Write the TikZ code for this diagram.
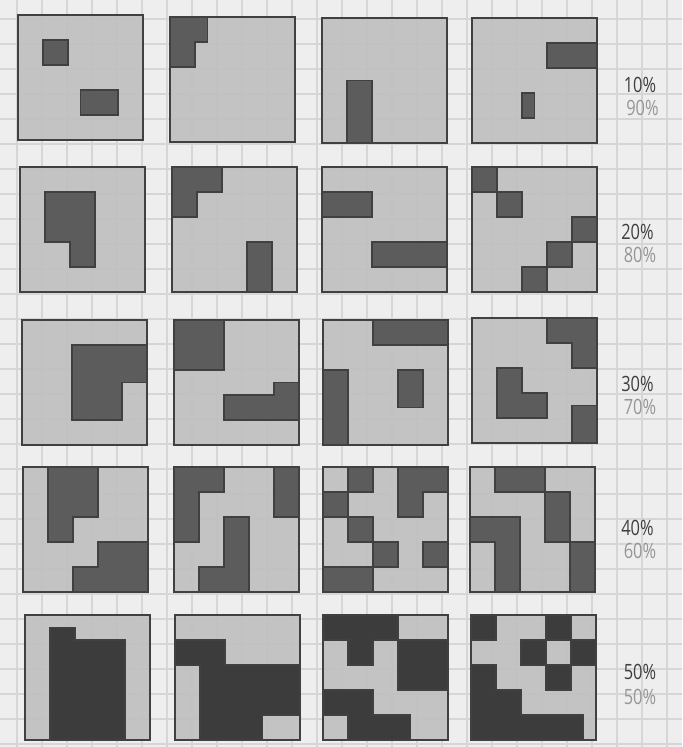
\documentclass[tikz,border=0pt]{standalone}
\usepackage{tikz}
\usepackage{xcolor}
\usepackage{fontspec}
\newfontfamily\handfont{Open Sans}
\definecolor{paper}{RGB}{238,238,238}
\definecolor{paperline}{RGB}{214,214,214}
\definecolor{pencil}{RGB}{64,64,64}
\definecolor{softgray}{RGB}{192,192,192}
\definecolor{shade}{RGB}{92,92,92}
\definecolor{deepshade}{RGB}{60,60,60}
\definecolor{fadetext}{RGB}{150,150,150}
\tikzset{
  gridline/.style={draw=paperline,line width=0.8pt},
  tilebox/.style={fill=softgray,fill opacity=0.92},
  tileframe/.style={draw=pencil,line width=1.4pt},
  darkcell/.style={fill=shade,draw=pencil,line width=0.8pt},
  deepcell/.style={darkcell,fill=deepshade},
  pct/.style={font=\handfont\fontsize{12}{12}\selectfont,text=pencil,inner sep=0pt,xscale=0.78,transform shape},
  pctlow/.style={pct,text=fadetext}
}
\newcommand{\tile}[4][darkcell]{%
  \begin{scope}[shift={(#2,-#3)},yscale=-1]
    \fill[tilebox] (0,0) rectangle (5,5);
    \filldraw[#1] #4;
    \draw[tileframe] (0,0) rectangle (5,5);
  \end{scope}}

\begin{document}
\begin{tikzpicture}[x=0.5cm,y=0.5cm]
  \fill[paper] (0,0) rectangle (27.28,-29.88);
  \useasboundingbox (0,0) rectangle (27.28,-29.88);
  \foreach \gx in {0,...,26}
    \draw[gridline] (0.68+\gx,0) -- (0.68+\gx,-29.88);
  \foreach \gy in {0,...,29}
    \draw[gridline] (0,-0.76-\gy) -- (27.28,-0.76-\gy);

  \tile{0.72}{0.6}{(1,1) rectangle (2,2) (2.5,3) rectangle (4,4)}
  \tile{6.8}{0.68}{(0,0) -- (1.5,0) -- (1.5,1) -- (1,1) -- (1,2) -- (0,2) -- cycle}
  \tile{12.88}{0.72}{(1,2.5) rectangle (2,5)}
  \tile{18.88}{0.72}{(3,1) rectangle (5,2) (2,3) rectangle (2.5,4)}

  \tile{0.8}{6.68}{(1,1) -- (3,1) -- (3,4) -- (2,4) -- (2,3) -- (1,3) -- cycle}
  \tile{6.88}{6.68}{(0,0) -- (2,0) -- (2,1) -- (1,1) -- (1,2) -- (0,2) -- cycle
    (3,3) rectangle (4,5)}
  \tile{12.88}{6.68}{(0,1) rectangle (2,2) (2,3) rectangle (5,4)}
  \tile{18.88}{6.68}{(0,0) rectangle (1,1) (1,1) rectangle (2,2) (4,2) rectangle (5,3)
    (3,3) rectangle (4,4) (2,4) rectangle (3,5)}

  \tile{0.88}{12.8}{(2,1) -- (5,1) -- (5,2.5) -- (4,2.5) -- (4,4) -- (2,4) -- cycle}
  \tile{6.96}{12.8}{(0,0) rectangle (2,2)
    (2,3) -- (4,3) -- (4,2.5) -- (5,2.5) -- (5,4) -- (2,4) -- cycle}
  \tile{12.92}{12.8}{(2,0) rectangle (5,1) (0,2) rectangle (1,5) (3,2) rectangle (4,3.5)}
  \tile{18.88}{12.72}{(3,0) -- (5,0) -- (5,2) -- (4,2) -- (4,1) -- (3,1) -- cycle
    (1,2) -- (2,2) -- (2,3) -- (3,3) -- (3,4) -- (1,4) -- cycle
    (4,3.5) rectangle (5,5)}

  \tile{0.92}{18.68}{(1,0) -- (3,0) -- (3,2) -- (2,2) -- (2,3) -- (1,3) -- cycle
    (3,3) -- (5,3) -- (5,5) -- (2,5) -- (2,4) -- (3,4) -- cycle}
  \tile{6.96}{18.68}{(0,0) -- (2,0) -- (2,1) -- (1,1) -- (1,3) -- (0,3) -- cycle
    (4,0) rectangle (5,2)
    (2,2) -- (3,2) -- (3,5) -- (1,5) -- (1,4) -- (2,4) -- cycle}
  \tile{12.92}{18.68}{(1,0) rectangle (2,1)
    (3,0) -- (5,0) -- (5,1) -- (4,1) -- (4,2) -- (3,2) -- cycle
    (0,1) rectangle (1,2) (1,2) rectangle (2,3) (2,3) rectangle (3,4)
    (4,3) rectangle (5,4) (0,4) rectangle (2,5)}
  \tile{18.8}{18.68}{(1,0) rectangle (3,1) (3,1) rectangle (4,3)
    (0,2) -- (2,2) -- (2,5) -- (1,5) -- (1,3) -- (0,3) -- cycle
    (4,3) rectangle (5,5)}

  \tile[deepcell]{1.0}{24.6}{(1,0.5) -- (2,0.5) -- (2,1) -- (4,1) -- (4,5) -- (1,5) -- cycle}
  \tile[deepcell]{7.0}{24.6}{(0,1) -- (2,1) -- (2,2) -- (5,2) -- (5,4) -- (3.5,4)
    -- (3.5,5) -- (1,5) -- (1,2) -- (0,2) -- cycle}
  \tile[deepcell]{12.92}{24.6}{(0,0) -- (3,0) -- (3,1) -- (2,1) -- (2,2) -- (1,2)
    -- (1,1) -- (0,1) -- cycle
    (3,1) rectangle (5,3)
    (0,3) -- (2,3) -- (2,4) -- (3.5,4) -- (3.5,5) -- (1,5) -- (1,4) -- (0,4) -- cycle}
  \tile[deepcell]{18.84}{24.6}{(0,0) rectangle (1,1) (3,0) rectangle (4,1)
    (2,1) rectangle (3,2) (4,1) rectangle (5,2) (3,2) rectangle (4,3)
    (0,2) -- (1,2) -- (1,3) -- (2,3) -- (2,4) -- (4.5,4) -- (4.5,5) -- (0,5) -- cycle}

  \node[pct] (p10) at (25.6,-3.4) {10\%};
  \node[pctlow] (q90) at (25.7,-4.32) {90\%};
  \node[pct] (p20) at (25.5,-9.28) {20\%};
  \node[pctlow] (q80) at (25.6,-10.2) {80\%};
  \node[pct] (p30) at (25.5,-15.36) {30\%};
  \node[pctlow] (q70) at (25.6,-16.28) {70\%};
  \node[pct] (p40) at (25.5,-21.12) {40\%};
  \node[pctlow] (q60) at (25.6,-22.04) {60\%};
  \node[pct] (p50) at (25.6,-26.88) {50\%};
  \node[pctlow] (q50) at (25.6,-27.88) {50\%};
\end{tikzpicture}
\end{document}
